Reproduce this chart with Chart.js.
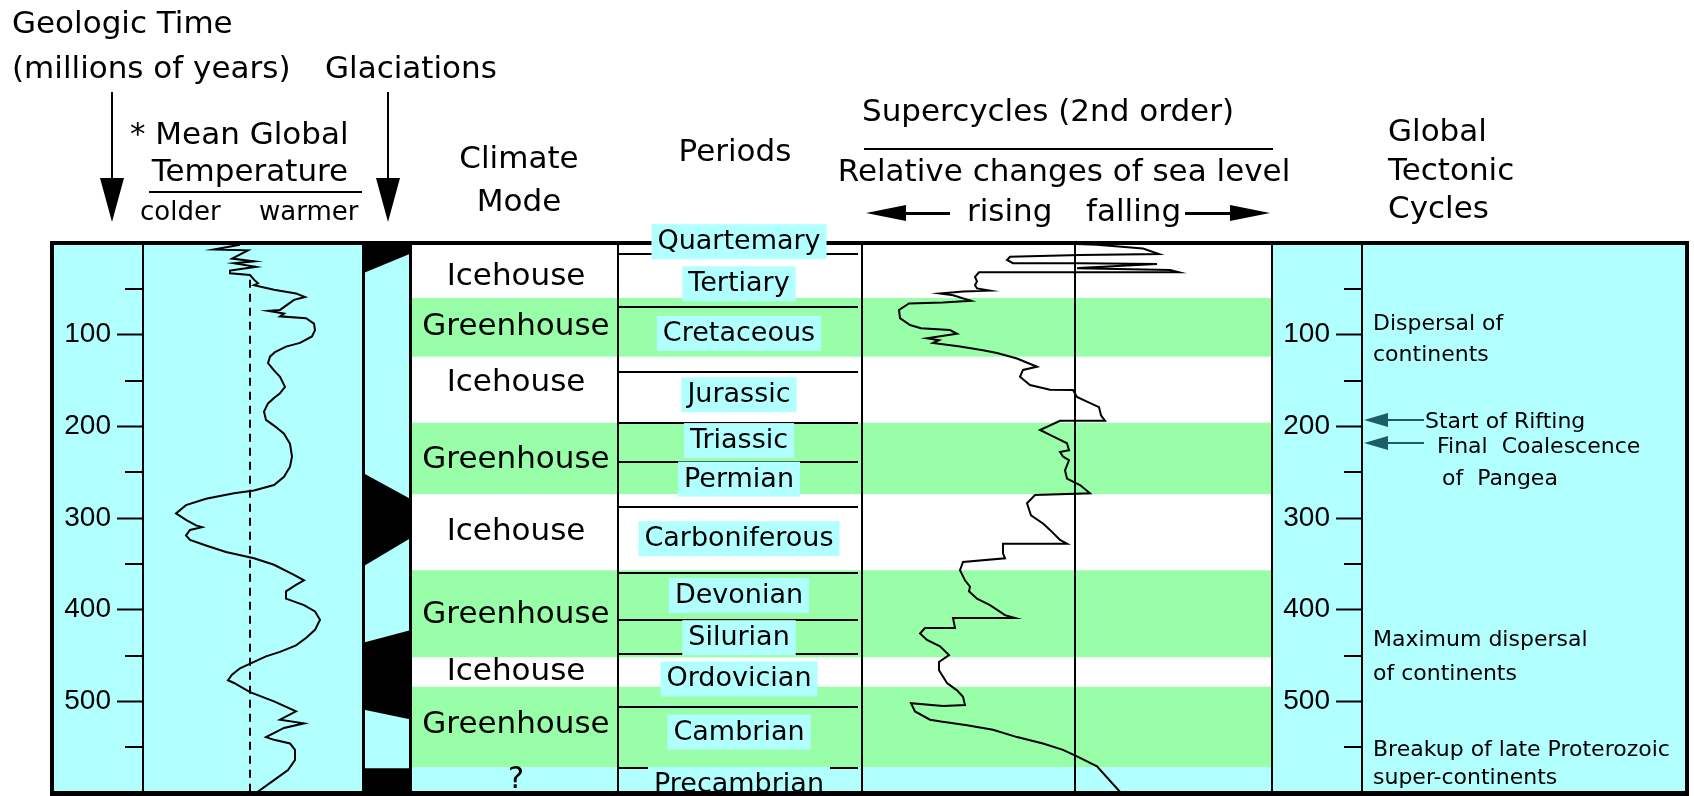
<!DOCTYPE html>
<html>
<head>
<meta charset="utf-8">
<script src="https://cdn.jsdelivr.net/npm/chart.js@4.4.0/dist/chart.umd.min.js"></script>
<style>
  html, body { margin: 0; padding: 0; background: #fff; overflow: hidden; }
  #wrap { position: relative; width: 1694px; height: 796px; }
  #wrap canvas { position: absolute; left: 0; top: 0; }
</style>
</head>
<body>
<div id="wrap">
  <canvas id="mainChart" width="1694" height="796"></canvas>
  <canvas id="tectonicChart" width="1694" height="796"></canvas>
</div>
<script>
// ---- data (ages in millions of years) ----
const ageMin = 0;
const ageMax = 600;
const ageMinorTicks = [50, 150, 250, 350, 450, 550];

// mean global temperature, relative units (negative = colder)
const tempAges = [2, 7, 8, 17, 20, 22, 26, 30, 33, 35, 40, 44, 46, 51, 55, 59, 62, 73, 74, 77,
  80, 82, 88, 95, 102, 109, 113, 119, 124, 131, 139, 146, 157, 164, 169, 175, 184, 193, 200, 208,
  219, 233, 244, 255, 264, 270, 273, 279, 286, 295, 302, 308, 310, 313, 319, 324, 330, 337, 344, 351,
  362, 368, 373, 380, 388, 395, 402, 411, 422, 431, 439, 446, 451, 457, 464, 471, 477, 480, 490, 500,
  511, 520, 524, 529, 539, 542, 546, 553, 564, 575, 586, 600];
const tempValues = [-0.5, -1.8, -0.1, -0.9, 0.2, -0.8, 0.3, -1.0, -1.0, 0.0, 0.2, 0.4, 0.2, 1.2, 2.3, 2.75, 2.2, 1.5, 0.9, 1.7,
  1.5, 2.8, 3.2, 3.25, 3.1, 2.5, 1.8, 1.25, 1.0, 0.9, 1.2, 1.5, 1.75, 1.5, 1.2, 0.9, 0.7, 0.8, 1.25, 1.7,
  2.0, 2.1, 2.0, 1.7, 1.2, 0.2, -0.8, -2.2, -3.2, -3.7, -3.2, -2.7, -2.4, -3.0, -3.2, -3.0, -2.2, -1.2, 0.2, 1.2,
  2.2, 2.7, 2.3, 1.8, 1.8, 2.7, 3.25, 3.5, 3.25, 2.8, 2.3, 1.5, 0.8, 0.2, -0.5, -0.9, -1.1, -0.8, 0.0, 1.2,
  2.3, 1.5, 2.7, 1.7, 0.8, 1.2, 2.0, 2.25, 2.25, 1.9, 1.2, 0.3];
const meanTempAges = [40, 600];

// relative sea level, relative units (positive = higher / rising)
const seaAges = [1, 2, 6, 12, 13, 15, 18.5, 22, 22, 23, 27, 27.6, 29.5, 32, 32, 32, 37, 42, 46, 49.5,
  52, 53, 55, 57, 63, 65, 66, 73, 82, 89.5, 93, 95, 99, 104, 106, 109, 113, 117, 120, 126,
  135, 138.5, 146, 155, 160, 160.4, 168, 173, 179, 188, 194, 194, 204, 211, 218.5, 226, 228, 233, 237, 248,
  257, 264, 273, 275, 284, 297, 306, 313, 324, 328, 328, 338.5, 344, 348, 357, 368, 375, 380, 388, 395,
  406, 409, 409, 420, 420, 426, 433, 440, 449.5, 457, 466, 480, 488, 495, 504, 505, 502, 511, 520, 522,
  526, 531, 539, 546, 553, 560, 571, 600];
const seaValues = [-0.1, -1.1, -3.4, -4.2, -0.25, 3.25, 3.4, 3.1, -0.25, -4.1, -0.4, -0.1, -4.75, -5.2, -0.1, 4.8, 5.0, 4.9, 5.0, 4.9,
  4.25, 5.6, 6.75, 6.1, 5.2, 6.6, 8.3, 8.8, 8.75, 8.25, 7.7, 6.25, 5.9, 7.4, 6.8, 7.1, 5.75, 4.6, 3.9, 2.9,
  1.9, 2.6, 2.75, 2.25, 1.25, 0.1, -0.1, -0.6, -1.2, -1.3, -1.5, 0.75, 1.75, 1.1, 0.4, 0.3, 0.75, 0.6, 0.3, 0.5,
  0.4, -0.25, -0.75, 2.0, 2.4, 2.2, 1.6, 1.25, 0.75, 0.4, 3.6, 3.6, 3.5, 5.6, 5.75, 5.5, 5.25, 5.3, 4.9, 4.25,
  3.5, 3.0, 6.1, 6.0, 7.5, 7.75, 7.4, 6.75, 6.3, 6.8, 6.8, 6.4, 5.9, 5.6, 5.5, 6.6, 8.2, 8.0, 7.25, 6.7,
  5.4, 4.1, 2.9, 1.6, 0.6, -0.1, -1.1, -2.3];

// glaciations: start / end age on the left and right edge of the column
const glacStartLeft = [0, 251, 436, 573];
const glacStartRight = [0, 280, 422, 573];
const glacEndLeft = [33, 353, 509, 600];
const glacEndRight = [11, 321, 520, 600];

// climate modes
const climateModes = ['Icehouse', 'Greenhouse', 'Icehouse', 'Greenhouse', 'Icehouse', 'Greenhouse', 'Icehouse', 'Greenhouse', '?'];
const climateLabelAges = [37, 92, 153, 237, 315, 406, 468, 526, 586];
const greenhouseFrom = [60, 196, 357, 484];
const greenhouseTo = [124, 274, 452, 572];
const precambrianFrom = 572;

// periods
const periodNames = ['Quartemary', 'Tertiary', 'Cretaceous', 'Jurassic', 'Triassic', 'Permian',
  'Carboniferous', 'Devonian', 'Silurian', 'Ordovician', 'Cambrian', 'Precambrian'];
const periodLabelAges = [-2, 44, 98, 165, 215, 257, 322, 384, 430, 475, 533, 590];
const periodBounds = [12, 70, 141, 196, 239, 288, 360, 411, 448, 506, 573];

// global tectonic cycles
const tectonicNotes = ['Dispersal of', 'continents', 'Start of Rifting', 'Final  Coalescence', 'of  Pangea',
  'Maximum dispersal', 'of continents', 'Breakup of late Proterozoic', 'super-continents'];
const tectonicNoteAges = [89, 122, 196, 223, 258, 433, 471, 553, 584];
const tectonicArrowAges = [193, 218];

// ---- layout / style ----
const tectonicNoteIndent = [11, 11, 63, 75, 80, 11, 11, 11, 11];
const CYAN = '#b2ffff';
const GREEN = '#98ffa8';
const TEAL = '#1e5c68';
const HEAD = '31px "DejaVu Sans"';
const SUB_HEAD = '26px "DejaVu Sans"';
const MODE_FONT = '31px "DejaVu Sans"';
const PERIOD_FONT = '27px "DejaVu Sans"';
const NOTE_FONT = '22px "DejaVu Sans"';
const TICK_FONT = { family: 'Liberation Sans', size: 28 };

const BOX = { left: 52, right: 1687 };
const X = { axis: 143, glacL: 363, glacR: 412, per: 618, perR: 862, seaRef: 1075,
  rAxis: 1272, rAxisLine: 1362, perMid: 739, modeMid: 516 };
const TEMP_ZERO = 250, TEMP_PX = 20;
const SEA_ZERO = X.seaRef, SEA_PX = 20;

function say(ctx, str, x, y, font, align) {
  ctx.font = font;
  ctx.fillStyle = '#000';
  ctx.textAlign = align || 'left';
  ctx.textBaseline = 'middle';
  ctx.fillText(str, x, y);
}

function downArrow(ctx, x, y1, y2) {
  ctx.fillStyle = '#000';
  ctx.fillRect(x - 1, y1, 2, y2 - y1 - 30);
  ctx.beginPath();
  ctx.moveTo(x - 12, y2 - 44);
  ctx.lineTo(x + 12, y2 - 44);
  ctx.lineTo(x, y2);
  ctx.closePath();
  ctx.fill();
}

function sideArrow(ctx, tip, base, tail, y) {
  ctx.fillStyle = '#000';
  ctx.fillRect(Math.min(base, tail), y - 1, Math.abs(tail - base), 3);
  ctx.beginPath();
  ctx.moveTo(tip, y);
  ctx.lineTo(base, y - 8);
  ctx.lineTo(base, y + 8);
  ctx.closePath();
  ctx.fill();
}

function ageAxis(width) {
  return {
    type: 'linear', position: 'left', reverse: true, min: ageMin, max: ageMax,
    ticks: {
      stepSize: 100, autoSkip: false, padding: 6, color: '#000', font: TICK_FONT,
      callback: v => (v > ageMin && v < ageMax) ? String(v) : ''
    },
    grid: { drawOnChartArea: false, drawTicks: true, tickLength: 26, tickWidth: 2, tickColor: '#000' },
    border: { display: true, color: '#000', width: 2 },
    afterFit: s => { s.width = width; s.paddingTop = 0; s.paddingBottom = 0; }
  };
}

function minorTicks(ctx, y, x) {
  ctx.fillStyle = '#000';
  ageMinorTicks.forEach(a => ctx.fillRect(x - 18, Math.round(y.getPixelForValue(a)) - 1, 18, 2));
}

const mainDecor = {
  id: 'mainDecor',
  beforeDraw(chart) {
    const ctx = chart.ctx;
    const y = chart.scales.y;
    const top = y.getPixelForValue(ageMin);
    const bottom = y.getPixelForValue(ageMax);
    ctx.save();

    // age + temperature columns
    ctx.fillStyle = CYAN;
    ctx.fillRect(BOX.left, top, X.glacR - BOX.left, bottom - top);

    // glaciations
    ctx.fillStyle = '#000';
    glacStartLeft.forEach((s, i) => {
      ctx.beginPath();
      ctx.moveTo(X.glacL, y.getPixelForValue(s));
      ctx.lineTo(X.glacR, y.getPixelForValue(glacStartRight[i]));
      ctx.lineTo(X.glacR, y.getPixelForValue(glacEndRight[i]));
      ctx.lineTo(X.glacL, y.getPixelForValue(glacEndLeft[i]));
      ctx.closePath();
      ctx.fill();
    });
    ctx.fillRect(X.glacL - 1, top, 3, bottom - top);
    ctx.fillRect(X.glacR - 3, top, 3, bottom - top);

    // climate mode bands across modes, periods and sea level
    ctx.fillStyle = GREEN;
    greenhouseFrom.forEach((f, i) => {
      const y1 = y.getPixelForValue(f);
      ctx.fillRect(X.glacR, y1, X.rAxis - X.glacR, y.getPixelForValue(greenhouseTo[i]) - y1);
    });
    ctx.fillStyle = CYAN;
    const yp = y.getPixelForValue(precambrianFrom);
    ctx.fillRect(X.glacR, yp, X.rAxis - X.glacR, bottom - yp);

    // period boundaries and column lines
    ctx.fillStyle = '#000';
    periodBounds.forEach(a => ctx.fillRect(X.per, Math.round(y.getPixelForValue(a)) - 1, X.perR - X.per - 4, 2));
    ctx.fillRect(X.per - 1, top, 2, bottom - top);
    ctx.fillRect(X.perR - 1, top, 2, bottom - top);
    ctx.fillRect(X.seaRef - 1, top, 2, bottom - top);

    // climate mode labels
    climateModes.forEach((m, i) => say(ctx, m, X.modeMid, y.getPixelForValue(climateLabelAges[i]), MODE_FONT, 'center'));

    // headers
    say(ctx, 'Geologic Time', 12, 25, HEAD);
    say(ctx, '(millions of years)', 12, 70, HEAD);
    say(ctx, 'Glaciations', 325, 70, HEAD);
    downArrow(ctx, 112, 92, 222);
    downArrow(ctx, 388, 92, 222);
    say(ctx, '* Mean Global', 130, 136, HEAD);
    say(ctx, 'Temperature', 250, 173, HEAD, 'center');
    ctx.fillStyle = '#000';
    ctx.fillRect(149, 191, 213, 2);
    say(ctx, 'colder', 140, 213, SUB_HEAD);
    say(ctx, 'warmer', 259, 213, SUB_HEAD);
    say(ctx, 'Climate', 519, 160, HEAD, 'center');
    say(ctx, 'Mode', 519, 203, HEAD, 'center');
    say(ctx, 'Periods', 735, 153, HEAD, 'center');
    say(ctx, 'Supercycles (2nd order)', 1048, 113, HEAD, 'center');
    ctx.fillStyle = '#000';
    ctx.fillRect(864, 148, 409, 2);
    say(ctx, 'Relative changes of sea level', 1064, 173, HEAD, 'center');
    sideArrow(ctx, 866, 906, 950, 213);
    say(ctx, 'rising', 967, 213, HEAD);
    say(ctx, 'falling', 1086, 213, HEAD);
    sideArrow(ctx, 1270, 1230, 1185, 213);
    ctx.restore();
  },
  afterDraw(chart) {
    const ctx = chart.ctx;
    const y = chart.scales.y;
    const top = y.getPixelForValue(ageMin);
    const bottom = y.getPixelForValue(ageMax);
    ctx.save();
    minorTicks(ctx, y, X.axis);

    // outer frame
    ctx.strokeStyle = '#000';
    ctx.lineWidth = 4;
    ctx.strokeRect(BOX.left, top, BOX.right - BOX.left, bottom - top);

    // period names
    ctx.font = PERIOD_FONT;
    periodNames.forEach((name, i) => {
      const cy = y.getPixelForValue(periodLabelAges[i]);
      ctx.font = PERIOD_FONT;
      const w = ctx.measureText(name).width + 12;
      ctx.fillStyle = CYAN;
      ctx.fillRect(X.perMid - w / 2, cy - 17, w, 35);
      say(ctx, name, X.perMid, cy + 1, PERIOD_FONT, 'center');
    });
    ctx.fillStyle = '#000';
    ctx.fillRect(BOX.left - 2, bottom - 2, BOX.right - BOX.left + 4, 6);
    ctx.restore();
  }
};

const tectonicDecor = {
  id: 'tectonicDecor',
  beforeDraw(chart) {
    const ctx = chart.ctx;
    const y = chart.scales.y;
    const top = y.getPixelForValue(ageMin);
    const bottom = y.getPixelForValue(ageMax);
    ctx.save();
    ctx.fillStyle = CYAN;
    ctx.fillRect(X.rAxis, top + 2, BOX.right - 2 - X.rAxis, bottom - top - 4);
    ctx.fillStyle = '#000';
    ctx.fillRect(X.rAxis - 1, top, 2, bottom - top);
    say(ctx, 'Global', 1388, 133, HEAD);
    say(ctx, 'Tectonic', 1388, 172, HEAD);
    say(ctx, 'Cycles', 1388, 210, HEAD);
    ctx.restore();
  },
  afterDraw(chart) {
    const ctx = chart.ctx;
    const y = chart.scales.y;
    const left = chart.chartArea.left;
    ctx.save();
    minorTicks(ctx, y, left);
    tectonicNotes.forEach((t, i) => say(ctx, t, left + tectonicNoteIndent[i], y.getPixelForValue(tectonicNoteAges[i]), NOTE_FONT));
    ctx.fillStyle = TEAL;
    tectonicArrowAges.forEach(a => {
      const ya = Math.round(y.getPixelForValue(a));
      ctx.fillRect(left + 24, ya - 1, 38, 2);
      ctx.beginPath();
      ctx.moveTo(left + 2, ya);
      ctx.lineTo(left + 26, ya - 7);
      ctx.lineTo(left + 26, ya + 7);
      ctx.closePath();
      ctx.fill();
    });
    ctx.restore();
  }
};

const plotArea = { left: X.axis, right: X.rAxis };

new Chart(document.getElementById('mainChart'), {
  type: 'line',
  data: {
    datasets: [
      {
        label: 'Mean global temperature',
        data: tempAges.map((a, i) => ({ x: tempValues[i], y: a })),
        xAxisID: 'xt', yAxisID: 'y',
        borderColor: '#000', borderWidth: 2, pointRadius: 0, tension: 0, fill: false
      },
      {
        label: 'Long-term mean',
        data: meanTempAges.map(a => ({ x: 0, y: a })),
        xAxisID: 'xt', yAxisID: 'y',
        borderColor: '#000', borderWidth: 2, borderDash: [8, 6], pointRadius: 0, fill: false
      },
      {
        label: 'Relative sea level',
        data: seaAges.map((a, i) => ({ x: seaValues[i], y: a })),
        xAxisID: 'xs', yAxisID: 'y',
        borderColor: '#000', borderWidth: 2, pointRadius: 0, tension: 0, fill: false
      }
    ]
  },
  options: {
    responsive: false,
    animation: false,
    devicePixelRatio: 1,
    layout: { padding: { left: BOX.left, right: 1694 - X.rAxis, top: 243, bottom: 3 } },
    plugins: { legend: { display: false }, tooltip: { enabled: false } },
    scales: {
      y: ageAxis(X.axis - BOX.left),
      xt: {
        type: 'linear', display: false,
        min: (plotArea.left - TEMP_ZERO) / TEMP_PX,
        max: (plotArea.right - TEMP_ZERO) / TEMP_PX
      },
      xs: {
        type: 'linear', display: false, reverse: true,
        min: (SEA_ZERO - plotArea.right) / SEA_PX,
        max: (SEA_ZERO - plotArea.left) / SEA_PX
      }
    }
  },
  plugins: [mainDecor]
});

new Chart(document.getElementById('tectonicChart'), {
  type: 'scatter',
  data: { datasets: [] },
  options: {
    responsive: false,
    animation: false,
    devicePixelRatio: 1,
    layout: { padding: { left: X.rAxis, right: 1694 - BOX.right, top: 243, bottom: 3 } },
    plugins: { legend: { display: false }, tooltip: { enabled: false } },
    scales: {
      x: { type: 'linear', display: false, min: 0, max: 1 },
      y: ageAxis(X.rAxisLine - X.rAxis)
    }
  },
  plugins: [tectonicDecor]
});
</script>
</body>
</html>
